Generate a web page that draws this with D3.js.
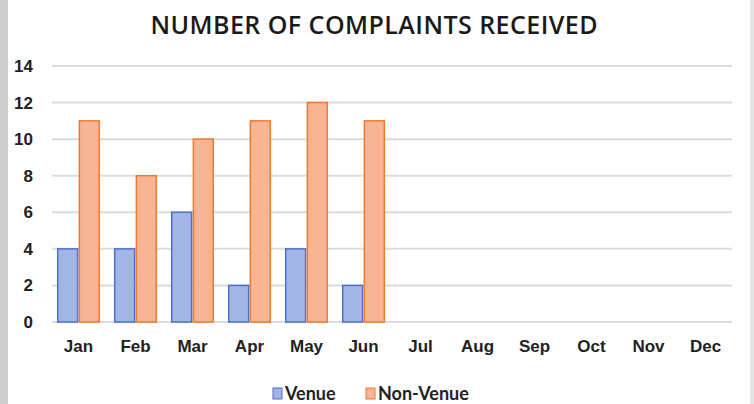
<!DOCTYPE html>
<html>
<head>
<meta charset="utf-8">
<script src="https://cdn.jsdelivr.net/npm/d3@7"></script>
<style>
	body { margin: 0; background: #fff; }
	svg { display: block; font-family: Lato, "Open Sans", sans-serif; }
</style>
</head>
<body>
<div class="chart"></div>
<script>
const months = ["Jan", "Feb", "Mar", "Apr", "May", "Jun", "Jul", "Aug", "Sep", "Oct", "Nov", "Dec"];
const venue = [4, 4, 6, 2, 4, 2, null, null, null, null, null, null];
const nonVenue = [11, 8, 10, 11, 12, 11, null, null, null, null, null, null];
const seriesNames = ["Venue", "Non-Venue"];
const yTicks = [0, 2, 4, 6, 8, 10, 12, 14];

const width = 754, height = 404;
const margin = {top: 66, right: 22, bottom: 82, left: 52};
const colors = {
	"Venue": {fill: "#a3b4e6", stroke: "#4a72c8"},
	"Non-Venue": {fill: "#f7b596", stroke: "#ee7a30"}
};

const svg = d3.select("div.chart")
	.append("svg")
	.attr("width", width)
	.attr("height", height);

// grey frame edges like the screenshot
svg.append("rect").attr("x", 0).attr("y", 0).attr("width", 8).attr("height", height).attr("fill", "#cfcfcf");
svg.append("rect").attr("x", 750).attr("y", 0).attr("width", 4).attr("height", height).attr("fill", "#e6e6e6");

svg.append("text")
	.attr("x", 374)
	.attr("y", 34)
	.attr("text-anchor", "middle")
	.attr("textLength", 447)
	.attr("lengthAdjust", "spacing")
	.style("font-size", "25px")
	.style("font-weight", 600)
	.style("font-family", "'Open Sans', sans-serif")
	.attr("fill", "#1a1a1a")
	.text("NUMBER OF COMPLAINTS RECEIVED");

const x0 = d3.scaleBand()
	.domain(months)
	.range([margin.left, width - margin.right])
	.paddingInner(0.27)
	.paddingOuter(0.1);

const x1 = d3.scaleBand()
	.domain(seriesNames)
	.range([0, x0.bandwidth()])
	.paddingInner(0.08);

const y = d3.scaleLinear()
	.domain([0, 14])
	.range([height - margin.bottom, margin.top]);

// gridlines
svg.append("g")
	.selectAll("line")
	.data(yTicks)
	.join("line")
	.attr("x1", margin.left)
	.attr("x2", width - margin.right)
	.attr("y1", d => y(d))
	.attr("y2", d => y(d))
	.attr("stroke", "#dcdcdc")
	.attr("stroke-width", 2);

// y axis labels
const yAxis = svg.append("g")
	.attr("transform", "translate(" + (margin.left - 19) + ",0)")
	.call(d3.axisLeft(y).tickValues(yTicks).tickSize(0).tickPadding(0));
yAxis.select(".domain").remove();
yAxis.selectAll("text")
	.style("font-size", "17px")
	.style("font-weight", "bold")
	.attr("fill", "#222");

// x axis labels
const xAxis = svg.append("g")
	.attr("transform", "translate(0," + (y(0) + 18) + ")")
	.call(d3.axisBottom(x0).tickSize(0).tickPadding(0));
xAxis.select(".domain").remove();
xAxis.selectAll("text")
	.style("font-size", "17px")
	.style("font-weight", "bold")
	.attr("fill", "#222");

// bars
const rows = months.map((m, i) => ({month: m, values: [
	{name: "Venue", value: venue[i]},
	{name: "Non-Venue", value: nonVenue[i]}
]}));

svg.append("g")
	.selectAll("g")
	.data(rows)
	.join("g")
	.attr("transform", d => "translate(" + x0(d.month) + ",0)")
	.selectAll("rect")
	.data(d => d.values.filter(v => v.value != null))
	.join("rect")
	.attr("x", d => x1(d.name))
	.attr("y", d => y(d.value))
	.attr("width", x1.bandwidth())
	.attr("height", d => y(0) - y(d.value))
	.attr("fill", d => colors[d.name].fill)
	.attr("stroke", d => colors[d.name].stroke)
	.attr("stroke-width", 1.5);

// legend
const legend = svg.append("g").attr("transform", "translate(0,400)");
const legendX = [273, 366];
seriesNames.forEach((name, i) => {
	legend.append("rect")
		.attr("x", legendX[i])
		.attr("y", -12)
		.attr("width", 9)
		.attr("height", 11)
		.attr("fill", colors[name].fill)
		.attr("stroke", colors[name].stroke)
		.attr("stroke-width", 1);
	legend.append("text")
		.attr("x", legendX[i] + 12)
		.attr("y", 0)
		.style("font-size", "18px")
		.style("font-weight", "bold")
		.attr("fill", "#222")
		.text(name);
});
</script>
</body>
</html>
